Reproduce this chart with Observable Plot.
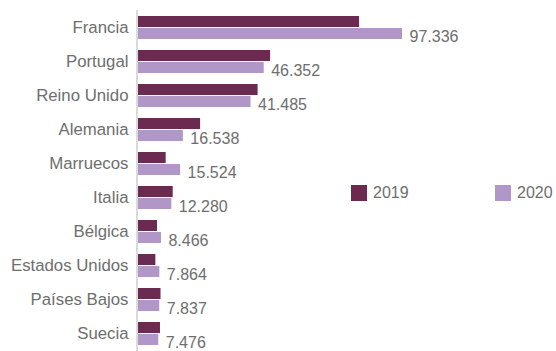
<!DOCTYPE html>
<html>
<head>
<meta charset="utf-8">
<script src="https://cdn.jsdelivr.net/npm/d3@7"></script>
<script src="https://cdn.jsdelivr.net/npm/@observablehq/plot@0.6"></script>
<style>
  html, body { margin: 0; padding: 0; background: #fff; }
  #wrap { position: relative; width: 556px; height: 351px; font-family: "Liberation Sans", Arial, sans-serif; }
  .lg { position: absolute; top: 185px; height: 16px; line-height: 16px; font-size: 16px; color: #6e6e6e; display: flex; align-items: center; }
  .sw { width: 16px; height: 16px; display: inline-block; margin-right: 6px; }
</style>
</head>
<body>
<div id="wrap"></div>
<script>
const countries = ["Francia", "Portugal", "Reino Unido", "Alemania", "Marruecos", "Italia", "Bélgica", "Estados Unidos", "Países Bajos", "Suecia"];
const years = ["2019", "2020"];
const values2019 = [81500, 48700, 44100, 22900, 10200, 12800, 7000, 6400, 8300, 8100];
const values2020 = [97336, 46352, 41485, 16538, 15524, 12280, 8466, 7864, 7837, 7476];
const colors = ["#6b2a4f", "#b097c8"];

const rows = [];
countries.forEach((c, i) => {
  rows.push({country: c, year: "2019", value: values2019[i]});
  rows.push({country: c, year: "2020", value: values2020[i]});
});

const es = d3.formatLocale({decimal: ",", thousands: ".", grouping: [3], currency: ["", " €"]});
const fmt = es.format(",");

const chart = Plot.plot({
  width: 556,
  height: 351,
  marginLeft: 138,
  marginRight: 154,
  marginTop: 13,
  marginBottom: 2,
  style: {fontFamily: "Liberation Sans, Arial, sans-serif", fontSize: "16.8px", color: "#6e6e6e", background: "#fff"},
  facet: {data: rows, y: "country"},
  fy: {domain: countries, paddingInner: 0.32, paddingOuter: 0.05, label: null, axis: "left", tickSize: 0, tickPadding: 10},
  y: {domain: years, axis: null, paddingInner: 0.1, paddingOuter: 0},
  x: {domain: [0, 97336], axis: null},
  color: {domain: years, range: colors},
  marks: [
    Plot.barX(rows, {x: "value", y: "year", fill: "year"}),
    Plot.ruleX([0], {stroke: "#cfcfcf", strokeWidth: 1.5, dx: -1.5, insetTop: -6, insetBottom: -6}),
    Plot.text(rows, {filter: d => d.year === "2020", x: "value", y: "year", text: d => fmt(d.value), textAnchor: "start", dx: 7, dy: 3, fill: "#6e6e6e", fontSize: 16})
  ]
});

const wrap = document.getElementById("wrap");
wrap.appendChild(chart);

const legendPos = [351, 495];
years.forEach((y, i) => {
  const item = document.createElement("div");
  item.className = "lg";
  item.style.left = legendPos[i] + "px";
  const sw = document.createElement("span");
  sw.className = "sw";
  sw.style.background = colors[i];
  item.appendChild(sw);
  item.appendChild(document.createTextNode(y));
  wrap.appendChild(item);
});
</script>
</body>
</html>
